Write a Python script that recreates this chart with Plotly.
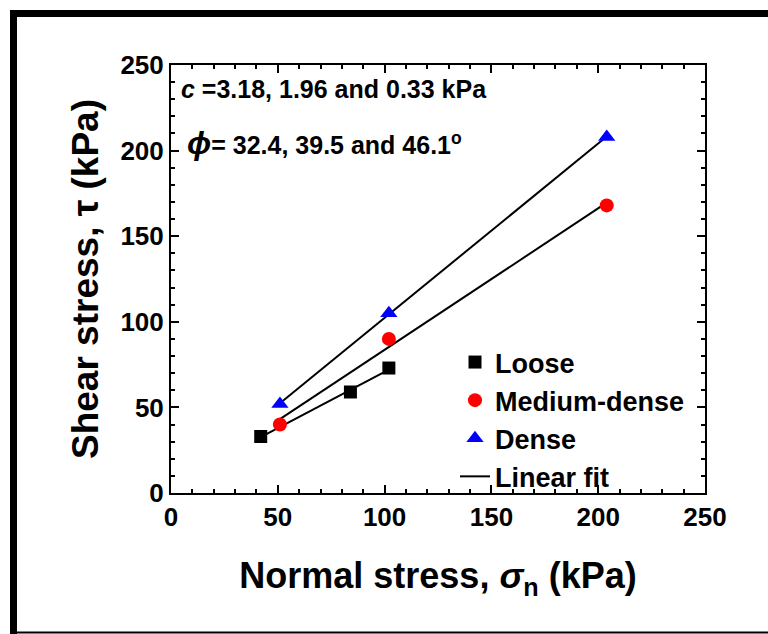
import numpy as np
import plotly.graph_objects as go

# ---- data ----
loose_x = [42, 84, 102]
loose_y = [33, 59, 73]
medium_x = [51, 102, 204]
medium_y = [40, 90, 168]
dense_x = [51, 102, 204]
dense_y = [52, 105, 208]
x_ticks = [0, 50, 100, 150, 200, 250]
y_ticks = [0, 50, 100, 150, 200, 250]

W, H = 768, 634
L, R, T, B = 171, 63, 65, 141
PW, PH = W - L - R, H - T - B

def px(x):
    return (x - L) / PW

def py(y):
    return (H - B - y) / PH

FONT = "Liberation Sans, Arial, sans-serif"

fig = go.Figure()

series = [
    ("Loose", loose_x, loose_y, dict(symbol="square", color="black", size=13)),
    ("Medium-dense", medium_x, medium_y, dict(symbol="circle", color="#ff0000", size=14)),
    ("Dense", dense_x, dense_y, dict(symbol="triangle-up", color="#0000ff", size=15)),
]

# fit lines
for i, (name, xs, ys, mk) in enumerate(series):
    k, b = np.polyfit(xs, ys, 1)
    xl = [min(xs), max(xs)]
    yl = [k * v + b for v in xl]
    fig.add_trace(go.Scatter(
        x=xl, y=yl, mode="lines", line=dict(color="black", width=2),
        name="Linear fit", showlegend=(i == 0), legendgroup="fit", legendrank=4,
    ))

for r, (name, xs, ys, mk) in enumerate(series):
    fig.add_trace(go.Scatter(
        x=xs, y=ys, mode="markers", name=name, marker=dict(**mk, line=dict(width=0)),
        legendgroup=name, legendrank=r + 1,
    ))

axis_common = dict(
    showline=True, linecolor="black", linewidth=2, mirror="allticks",
    ticks="inside", ticklen=8, tickwidth=2, tickcolor="black",
    showgrid=False, zeroline=False,
    tickfont=dict(family=FONT, size=26, color="black", weight="bold"),
    minor=dict(dtick=10, ticks="inside", ticklen=4, tickwidth=1.5, tickcolor="black", showgrid=False),
)

fig.update_xaxes(
    range=[0, 250], tickvals=x_ticks, ticktext=[str(v) for v in x_ticks],
    title=dict(text="Normal stress, <i>σ</i><sub>n</sub> (kPa)",
               font=dict(family=FONT, size=36, color="black", weight="bold"), standoff=32),
    **axis_common,
)
fig.update_yaxes(
    range=[0, 250], tickvals=y_ticks, ticktext=[str(v) for v in y_ticks],
    title=dict(text="Shear stress, τ (kPa)",
               font=dict(family=FONT, size=37, color="black", weight="bold"), standoff=10),
    **axis_common,
)

fig.add_annotation(
    xref="paper", yref="paper", x=px(179), y=py(89), xanchor="left", yanchor="middle",
    text="<i>c</i> =3.18, 1.96 and 0.33 kPa", showarrow=False,
    font=dict(family=FONT, size=25, color="black", weight="bold"),
)
fig.add_annotation(
    xref="paper", yref="paper", x=px(185), y=py(143), xanchor="left", yanchor="middle",
    text="<i><span style='font-size:32px'>ϕ</span></i>= 32.4, 39.5 and 46.1<sup>o</sup>", showarrow=False,
    font=dict(family=FONT, size=25, color="black", weight="bold"),
)

# outer frame
frame = [
    (13, 13.5, 800, 13.5, 7),
    (13.5, 10, 13.5, 640, 7),
    (13, 632.5, 800, 632.5, 2),
]
for x0, y0, x1, y1, w in frame:
    fig.add_shape(type="line", xref="paper", yref="paper",
                  x0=px(x0), y0=py(y0), x1=px(x1), y1=py(y1),
                  line=dict(color="black", width=w))

fig.update_layout(
    width=W, height=H,
    margin=dict(l=L, r=R, t=T, b=B, autoexpand=False),
    paper_bgcolor="white", plot_bgcolor="white",
    font=dict(family=FONT, color="black"),
    legend=dict(
        x=px(455), y=py(338), xanchor="left", yanchor="top",
        bgcolor="rgba(0,0,0,0)", borderwidth=0,
        font=dict(family=FONT, size=27, color="black", weight="bold"),
        tracegroupgap=0, itemwidth=30,
    ),
)

fig.write_html("out.html")
